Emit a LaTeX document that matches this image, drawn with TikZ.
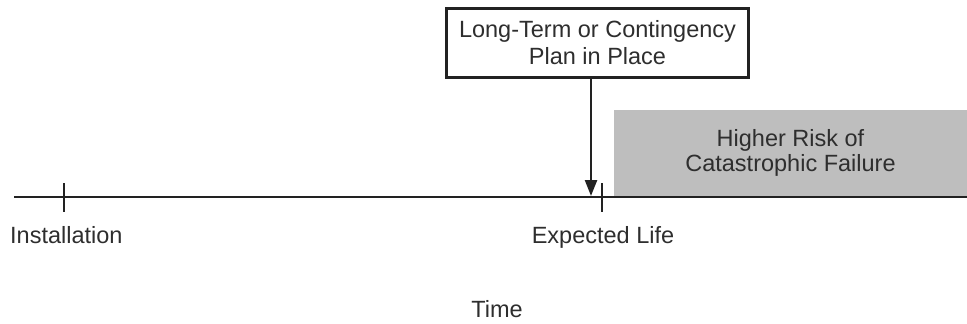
\documentclass[tikz,border=0pt]{standalone}
\usepackage{fontspec}
\setmainfont{Liberation Sans}
\usetikzlibrary{arrows.meta}
\definecolor{ink}{HTML}{222222}
\definecolor{txt}{HTML}{2E2E2E}
\definecolor{riskgray}{HTML}{BEBEBE}
\begin{document}
\begin{tikzpicture}[x=1pt,y=-1pt,
  lbl/.style={font=\fontsize{23.5}{27}\selectfont, text=txt, inner sep=0pt},
  axis/.style={draw=ink, line width=2.4pt},
  tickmark/.style={draw=ink, line width=2.4pt},
  planbox/.style={draw=ink, line width=2.6pt, fill=white, minimum width=302pt, minimum height=69pt, align=center, font=\fontsize{23.5}{27}\selectfont, text=txt, inner sep=0pt},
  riskbox/.style={fill=riskgray, minimum width=353pt, minimum height=86pt, align=center, font=\fontsize{23.5}{25}\selectfont, text=txt, inner sep=0pt}]
\useasboundingbox (0,0) rectangle (967,324);
% gray region
\node[riskbox] (risk) at (790.5,153) {Higher Risk of\\Catastrophic Failure};
% timeline
\coordinate (tl) at (14,197);
\coordinate (tr) at (967,197);
\draw[axis] (tl) -- (tr);
% ticks
\coordinate (t1a) at (64,183); \coordinate (t1b) at (64,212);
\coordinate (t2a) at (602,183); \coordinate (t2b) at (602,212);
\draw[tickmark] (t1a) -- (t1b);
\draw[tickmark] (t2a) -- (t2b);
% plan box
\node[planbox] (plan) at (597.5,43) {Long-Term or Contingency\\Plan in Place};
\coordinate (ptop) at (591,79);
\coordinate (pend) at (591,196);
\draw[draw=ink, line width=2.4pt, -{Triangle[length=16pt,width=12pt]}] (ptop) -- (pend);
% labels
\node[lbl, anchor=base west] (inst) at (10,243) {Installation};
\node[lbl, anchor=base] (exp) at (603,243) {Expected Life};
\node[lbl, anchor=base] (time) at (497,317) {Time};
\end{tikzpicture}
\end{document}
